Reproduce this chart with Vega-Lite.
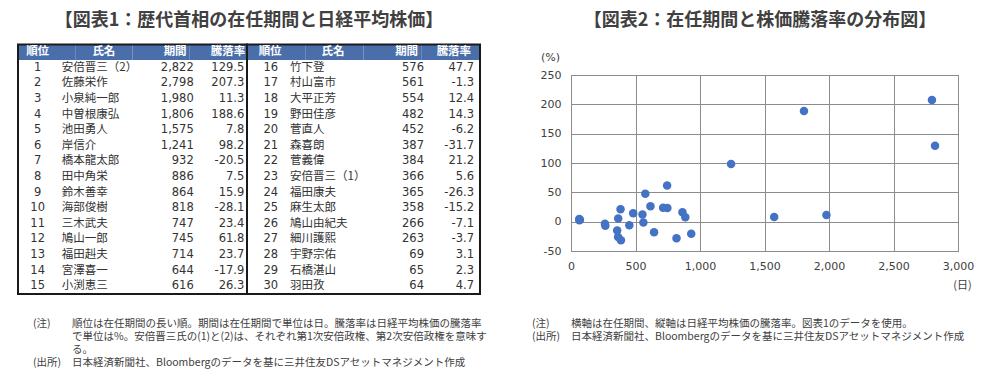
{
  "$schema": "https://vega.github.io/schema/vega-lite/v6.json",
  "width": 387,
  "height": 176,
  "autosize": "none",
  "padding": {"left": 571, "top": 75, "right": 40, "bottom": 133},
  "background": "#ffffff",
  "config": {
    "locale": {"number": {"decimal": ".", "thousands": ",", "grouping": [3], "currency": ["", ""], "minus": "-"}},
    "view": {"stroke": "#8c8c8c", "strokeWidth": 1}
  },
  "datasets": {
    "pm": [
      {"rank": 1, "name": "安倍晋三（2）", "days": 2822, "rate": 129.5},
      {"rank": 2, "name": "佐藤栄作", "days": 2798, "rate": 207.3},
      {"rank": 3, "name": "小泉純一郎", "days": 1980, "rate": 11.3},
      {"rank": 4, "name": "中曽根康弘", "days": 1806, "rate": 188.6},
      {"rank": 5, "name": "池田勇人", "days": 1575, "rate": 7.8},
      {"rank": 6, "name": "岸信介", "days": 1241, "rate": 98.2},
      {"rank": 7, "name": "橋本龍太郎", "days": 932, "rate": -20.5},
      {"rank": 8, "name": "田中角栄", "days": 886, "rate": 7.5},
      {"rank": 9, "name": "鈴木善幸", "days": 864, "rate": 15.9},
      {"rank": 10, "name": "海部俊樹", "days": 818, "rate": -28.1},
      {"rank": 11, "name": "三木武夫", "days": 747, "rate": 23.4},
      {"rank": 12, "name": "鳩山一郎", "days": 745, "rate": 61.8},
      {"rank": 13, "name": "福田赳夫", "days": 714, "rate": 23.7},
      {"rank": 14, "name": "宮澤喜一", "days": 644, "rate": -17.9},
      {"rank": 15, "name": "小渕恵三", "days": 616, "rate": 26.3},
      {"rank": 16, "name": "竹下登", "days": 576, "rate": 47.7},
      {"rank": 17, "name": "村山富市", "days": 561, "rate": -1.3},
      {"rank": 18, "name": "大平正芳", "days": 554, "rate": 12.4},
      {"rank": 19, "name": "野田佳彦", "days": 482, "rate": 14.3},
      {"rank": 20, "name": "菅直人", "days": 452, "rate": -6.2},
      {"rank": 21, "name": "森喜朗", "days": 387, "rate": -31.7},
      {"rank": 22, "name": "菅義偉", "days": 384, "rate": 21.2},
      {"rank": 23, "name": "安倍晋三（1）", "days": 366, "rate": 5.6},
      {"rank": 24, "name": "福田康夫", "days": 365, "rate": -26.3},
      {"rank": 25, "name": "麻生太郎", "days": 358, "rate": -15.2},
      {"rank": 26, "name": "鳩山由紀夫", "days": 266, "rate": -7.1},
      {"rank": 27, "name": "細川護熙", "days": 263, "rate": -3.7},
      {"rank": 28, "name": "宇野宗佑", "days": 69, "rate": 3.1},
      {"rank": 29, "name": "石橋湛山", "days": 65, "rate": 2.3},
      {"rank": 30, "name": "羽田孜", "days": 64, "rate": 4.7}
    ],
    "header": [{"col": "順位"}, {"col": "氏名"}, {"col": "期間"}, {"col": "騰落率"}],
    "notes": [
      {"side": "L", "line": 0, "label": "(注)", "body": "順位は在任期間の長い順。期間は在任期間で単位は日。騰落率は日経平均株価の騰落率"},
      {"side": "L", "line": 1, "label": "", "body": "で単位は%。安倍晋三氏の(1)と(2)は、それぞれ第1次安倍政権、第2次安倍政権を意味す"},
      {"side": "L", "line": 2, "label": "", "body": "る。"},
      {"side": "L", "line": 3, "label": "(出所)", "body": "日本経済新聞社、Bloombergのデータを基に三井住友DSアセットマネジメント作成"},
      {"side": "R", "line": 0, "label": "(注)", "body": "横軸は在任期間、縦軸は日経平均株価の騰落率。図表1のデータを使用。"},
      {"side": "R", "line": 1, "label": "(出所)", "body": "日本経済新聞社、Bloombergのデータを基に三井住友DSアセットマネジメント作成"}
    ],
    "titles": [
      {"side": "L", "title": "【図表1：歴代首相の在任期間と日経平均株価】"},
      {"side": "R", "title": "【図表2：在任期間と株価騰落率の分布図】"}
    ]
  },
  "data": {"name": "pm"},
  "layer": [
    {
      "mark": {"type": "circle", "size": 72, "color": "#4472c4", "opacity": 1},
      "encoding": {
        "x": {
          "field": "days", "type": "quantitative",
          "scale": {"domain": [0, 3000], "nice": false, "zero": false},
          "axis": {
            "values": [0, 500, 1000, 1500, 2000, 2500, 3000], "format": ",.0f",
            "grid": true, "gridColor": "#8c8c8c", "gridOpacity": 1,
            "domainColor": "#8c8c8c", "ticks": false, "labelPadding": 9,
            "labelFont": "DejaVu Sans", "labelFontSize": 11, "labelColor": "#404040",
            "labelFlush": false, "labelOverlap": false,
            "title": "(日)", "titleFont": "Noto Sans CJK JP", "titleFontSize": 11,
            "titleFontWeight": "normal", "titleColor": "#404040",
            "titleX": 391, "titleY": 34, "titleAlign": "center", "titleBaseline": "middle"
          }
        },
        "y": {
          "field": "rate", "type": "quantitative",
          "scale": {"domain": [-50, 250], "nice": false, "zero": false},
          "axis": {
            "values": [-50, 0, 50, 100, 150, 200, 250], "format": ".0f",
            "grid": true, "gridColor": "#8c8c8c", "gridOpacity": 1,
            "domainColor": "#8c8c8c", "ticks": false, "labelPadding": 10,
            "labelFont": "DejaVu Sans", "labelFontSize": 11, "labelColor": "#404040",
            "labelFlush": false, "labelOverlap": false,
            "title": "(%)", "titleAngle": 0, "titleFont": "DejaVu Sans", "titleFontSize": 11,
            "titleFontWeight": "normal", "titleColor": "#404040",
            "titleX": -21, "titleY": -18, "titleAlign": "center", "titleBaseline": "middle"
          }
        }
      }
    },
    {
      "layer": [
        {
          "data": {"name": "header"},
          "mark": {"type": "rect", "color": "#4a6ea9"},
          "encoding": {
            "x": {"field": "col", "type": "nominal", "scale": {"type": "band", "domain": ["順位", "氏名", "期間", "騰落率"], "range": [-553, -324], "paddingInner": 0, "paddingOuter": 0}, "axis": null},
            "y": {"datum": -0.5, "type": "quantitative", "scale": {"domain": [-0.5, 15.5], "range": [-30.5, 219], "nice": false, "zero": false}, "axis": null},
            "y2": {"datum": 0.5}
          }
        },
        {
          "data": {"values": [{"part": "frame"}]},
          "mark": {"type": "rect", "filled": false, "color": "#1a1a1a", "strokeWidth": 2},
          "encoding": {
            "x": {"datum": "順位", "type": "nominal", "bandPosition": 0, "axis": null},
            "x2": {"datum": "騰落率", "bandPosition": 1},
            "y": {"datum": -0.5, "type": "quantitative", "axis": null},
            "y2": {"datum": 15.5}
          }
        },
        {
          "data": {"name": "header"},
          "transform": [{"filter": "datum.col === '順位'"}],
          "mark": {"type": "text", "font": "Noto Sans CJK JP", "fontSize": 11.5, "fontWeight": "bold", "color": "#ffffff", "align": "center", "baseline": "middle", "dx": -9},
          "encoding": {"x": {"field": "col", "type": "nominal", "axis": null}, "y": {"datum": 0, "type": "quantitative", "axis": null}, "text": {"field": "col"}}
        },
        {
          "data": {"name": "header"},
          "transform": [{"filter": "datum.col === '氏名'"}],
          "mark": {"type": "text", "font": "Noto Sans CJK JP", "fontSize": 11.5, "fontWeight": "bold", "color": "#ffffff", "align": "center", "baseline": "middle", "dx": 0},
          "encoding": {"x": {"field": "col", "type": "nominal", "axis": null}, "y": {"datum": 0, "type": "quantitative", "axis": null}, "text": {"field": "col"}}
        },
        {
          "data": {"name": "header"},
          "transform": [{"filter": "datum.col === '期間'"}],
          "mark": {"type": "text", "font": "Noto Sans CJK JP", "fontSize": 11.5, "fontWeight": "bold", "color": "#ffffff", "align": "center", "baseline": "middle", "dx": 14},
          "encoding": {"x": {"field": "col", "type": "nominal", "axis": null}, "y": {"datum": 0, "type": "quantitative", "axis": null}, "text": {"field": "col"}}
        },
        {
          "data": {"name": "header"},
          "transform": [{"filter": "datum.col === '騰落率'"}],
          "mark": {"type": "text", "font": "Noto Sans CJK JP", "fontSize": 11.5, "fontWeight": "bold", "color": "#ffffff", "align": "center", "baseline": "middle", "dx": 9.6},
          "encoding": {"x": {"field": "col", "type": "nominal", "axis": null}, "y": {"datum": 0, "type": "quantitative", "axis": null}, "text": {"field": "col"}}
        },
        {
          "transform": [{"filter": "datum.rank <= 15"}],
          "mark": {"type": "text", "font": "DejaVu Sans", "fontSize": 11.5, "color": "#333333", "align": "center", "baseline": "middle", "dx": -9},
          "encoding": {"x": {"datum": "順位", "type": "nominal", "axis": null}, "y": {"field": "rank", "type": "quantitative", "axis": null}, "text": {"field": "rank", "type": "quantitative"}}
        },
        {
          "transform": [{"filter": "datum.rank <= 15"}],
          "mark": {"type": "text", "font": "Noto Sans CJK JP", "fontSize": 11.5, "color": "#333333", "align": "left", "baseline": "middle", "dx": -13.5},
          "encoding": {"x": {"datum": "氏名", "type": "nominal", "bandPosition": 0, "axis": null}, "y": {"field": "rank", "type": "quantitative", "axis": null}, "text": {"field": "name"}}
        },
        {
          "transform": [{"filter": "datum.rank <= 15"}],
          "mark": {"type": "text", "font": "DejaVu Sans", "fontSize": 11.5, "color": "#333333", "align": "right", "baseline": "middle", "dx": 4},
          "encoding": {"x": {"datum": "期間", "type": "nominal", "bandPosition": 1, "axis": null}, "y": {"field": "rank", "type": "quantitative", "axis": null}, "text": {"field": "days", "type": "quantitative", "format": ","}}
        },
        {
          "transform": [{"filter": "datum.rank <= 15"}],
          "mark": {"type": "text", "font": "DejaVu Sans", "fontSize": 11.5, "color": "#333333", "align": "right", "baseline": "middle", "dx": -2.7},
          "encoding": {"x": {"datum": "騰落率", "type": "nominal", "bandPosition": 1, "axis": null}, "y": {"field": "rank", "type": "quantitative", "axis": null}, "text": {"field": "rate", "type": "quantitative", "format": ".1f"}}
        }
      ]
    },
    {
      "layer": [
        {
          "data": {"name": "header"},
          "mark": {"type": "rect", "color": "#4a6ea9"},
          "encoding": {
            "x": {"field": "col", "type": "nominal", "scale": {"type": "band", "domain": ["順位", "氏名", "期間", "騰落率"], "range": [-324, -91], "paddingInner": 0, "paddingOuter": 0}, "axis": null},
            "y": {"datum": 14.5, "type": "quantitative", "scale": {"domain": [14.5, 30.5], "range": [-30.5, 219], "nice": false, "zero": false}, "axis": null},
            "y2": {"datum": 15.5}
          }
        },
        {
          "data": {"values": [{"part": "frame"}]},
          "mark": {"type": "rect", "filled": false, "color": "#1a1a1a", "strokeWidth": 2},
          "encoding": {
            "x": {"datum": "順位", "type": "nominal", "bandPosition": 0, "axis": null},
            "x2": {"datum": "騰落率", "bandPosition": 1},
            "y": {"datum": 14.5, "type": "quantitative", "axis": null},
            "y2": {"datum": 30.5}
          }
        },
        {
          "data": {"name": "header"},
          "transform": [{"filter": "datum.col === '順位'"}],
          "mark": {"type": "text", "font": "Noto Sans CJK JP", "fontSize": 11.5, "fontWeight": "bold", "color": "#ffffff", "align": "center", "baseline": "middle", "dx": -6},
          "encoding": {"x": {"field": "col", "type": "nominal", "axis": null}, "y": {"datum": 15, "type": "quantitative", "axis": null}, "text": {"field": "col"}}
        },
        {
          "data": {"name": "header"},
          "transform": [{"filter": "datum.col === '氏名'"}],
          "mark": {"type": "text", "font": "Noto Sans CJK JP", "fontSize": 11.5, "fontWeight": "bold", "color": "#ffffff", "align": "center", "baseline": "middle", "dx": -1.4},
          "encoding": {"x": {"field": "col", "type": "nominal", "axis": null}, "y": {"datum": 15, "type": "quantitative", "axis": null}, "text": {"field": "col"}}
        },
        {
          "data": {"name": "header"},
          "transform": [{"filter": "datum.col === '期間'"}],
          "mark": {"type": "text", "font": "Noto Sans CJK JP", "fontSize": 11.5, "fontWeight": "bold", "color": "#ffffff", "align": "center", "baseline": "middle", "dx": 14},
          "encoding": {"x": {"field": "col", "type": "nominal", "axis": null}, "y": {"datum": 15, "type": "quantitative", "axis": null}, "text": {"field": "col"}}
        },
        {
          "data": {"name": "header"},
          "transform": [{"filter": "datum.col === '騰落率'"}],
          "mark": {"type": "text", "font": "Noto Sans CJK JP", "fontSize": 11.5, "fontWeight": "bold", "color": "#ffffff", "align": "center", "baseline": "middle", "dx": 3},
          "encoding": {"x": {"field": "col", "type": "nominal", "axis": null}, "y": {"datum": 15, "type": "quantitative", "axis": null}, "text": {"field": "col"}}
        },
        {
          "transform": [{"filter": "datum.rank >= 16"}],
          "mark": {"type": "text", "font": "DejaVu Sans", "fontSize": 11.5, "color": "#333333", "align": "center", "baseline": "middle", "dx": -5.4},
          "encoding": {"x": {"datum": "順位", "type": "nominal", "axis": null}, "y": {"field": "rank", "type": "quantitative", "axis": null}, "text": {"field": "rank", "type": "quantitative"}}
        },
        {
          "transform": [{"filter": "datum.rank >= 16"}],
          "mark": {"type": "text", "font": "Noto Sans CJK JP", "fontSize": 11.5, "color": "#333333", "align": "left", "baseline": "middle", "dx": -15.25},
          "encoding": {"x": {"datum": "氏名", "type": "nominal", "bandPosition": 0, "axis": null}, "y": {"field": "rank", "type": "quantitative", "axis": null}, "text": {"field": "name"}}
        },
        {
          "transform": [{"filter": "datum.rank >= 16"}],
          "mark": {"type": "text", "font": "DejaVu Sans", "fontSize": 11.5, "color": "#333333", "align": "right", "baseline": "middle", "dx": 2.25},
          "encoding": {"x": {"datum": "期間", "type": "nominal", "bandPosition": 1, "axis": null}, "y": {"field": "rank", "type": "quantitative", "axis": null}, "text": {"field": "days", "type": "quantitative", "format": ","}}
        },
        {
          "transform": [{"filter": "datum.rank >= 16"}],
          "mark": {"type": "text", "font": "DejaVu Sans", "fontSize": 11.5, "color": "#333333", "align": "right", "baseline": "middle", "dx": -6},
          "encoding": {"x": {"datum": "騰落率", "type": "nominal", "bandPosition": 1, "axis": null}, "y": {"field": "rank", "type": "quantitative", "axis": null}, "text": {"field": "rate", "type": "quantitative", "format": ".1f"}}
        }
      ]
    },
    {
      "data": {"name": "notes"},
      "layer": [
        {
          "mark": {"type": "text", "font": "Noto Sans CJK JP", "fontSize": 10.5, "color": "#404040", "align": "left", "baseline": "middle"},
          "encoding": {
            "x": {"field": "side", "type": "nominal", "scale": {"type": "point", "domain": ["L", "R"], "range": [-538, -39], "padding": 0}, "axis": null},
            "y": {"field": "line", "type": "quantitative", "scale": {"domain": [0, 3], "range": [249, 288], "nice": false, "zero": false}, "axis": null},
            "text": {"field": "label"}
          }
        },
        {
          "mark": {"type": "text", "font": "Noto Sans CJK JP", "fontSize": 10.5, "color": "#404040", "align": "left", "baseline": "middle", "dx": 39},
          "encoding": {
            "x": {"field": "side", "type": "nominal", "axis": null},
            "y": {"field": "line", "type": "quantitative", "axis": null},
            "text": {"field": "body"}
          }
        }
      ]
    },
    {
      "data": {"name": "titles"},
      "mark": {"type": "text", "font": "Noto Sans CJK JP", "fontSize": 18, "fontWeight": "bold", "color": "#404040", "align": "center", "baseline": "middle"},
      "encoding": {
        "x": {"field": "side", "type": "nominal", "scale": {"type": "point", "domain": ["L", "R"], "range": [-322, 189], "padding": 0}, "axis": null},
        "y": {"field": "side", "type": "nominal", "scale": {"type": "point", "domain": ["L", "R"], "range": [-54, -54], "padding": 0}, "axis": null},
        "text": {"field": "title"}
      }
    }
  ],
  "resolve": {"scale": {"x": "independent", "y": "independent"}}
}
